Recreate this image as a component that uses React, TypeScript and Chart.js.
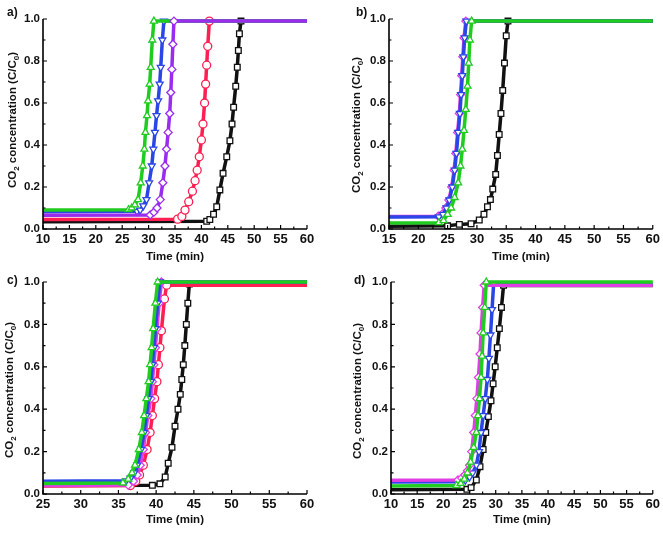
import React, { useEffect, useRef } from "react";
import { Chart, registerables } from "chart.js";
Chart.register(...registerables);

const FONT = 'Arial, "Liberation Sans", Helvetica, sans-serif';

// ---------- colours / marker styles ----------
const BLACK = "#111111";
const RED = "#ff1f52";
const PURPLE = "#9a2cf0";
const BLUE = "#2a46e6";
const GREEN = "#1fcc1f";
const MAGENTA = "#e23ce6";

// ---------- axis ranges ----------
const aXRange = [10, 60];
const bXRange = [15, 60];
const cXRange = [25, 60];
const dXRange = [10, 60];
const yRange = [0, 1];
const xTickStep = 5;
const yTickStep = 0.2;

// ---------- panel a ----------
const aBlackX = [10, 41.0, 41.6, 42.3, 42.9, 43.5, 44.1, 44.8, 45.4, 45.8, 46.1, 46.5, 46.8, 47.0, 47.2, 47.5, 60];
const aBlackY = [0.035, 0.037, 0.045, 0.07, 0.106, 0.186, 0.265, 0.344, 0.42, 0.5, 0.58, 0.68, 0.77, 0.85, 0.93, 0.99, 0.99];
const aRedX = [10, 35.5, 36.3, 36.9, 37.6, 38.3, 38.8, 39.2, 39.6, 40.0, 40.3, 40.6, 40.8, 41.0, 41.2, 41.5, 60];
const aRedY = [0.045, 0.047, 0.06, 0.09, 0.13, 0.18, 0.23, 0.28, 0.344, 0.424, 0.5, 0.6, 0.69, 0.78, 0.87, 0.99, 0.99];
const aBlueX = [10, 27.8, 28.4, 29.0, 29.6, 30.1, 30.6, 30.9, 31.2, 31.5, 31.8, 32.1, 32.3, 32.6, 32.9, 60];
const aBlueY = [0.082, 0.084, 0.09, 0.11, 0.14, 0.22, 0.3, 0.38, 0.46, 0.54, 0.61, 0.69, 0.77, 0.9, 0.99, 0.99];
const aGreenX = [10, 26.2, 26.8, 27.4, 28.0, 28.5, 28.9, 29.2, 29.4, 29.7, 29.9, 30.2, 30.4, 30.7, 31.0, 60];
const aGreenY = [0.09, 0.092, 0.1, 0.115, 0.14, 0.22, 0.3, 0.38, 0.46, 0.54, 0.61, 0.69, 0.77, 0.9, 0.99, 0.99];
const aPurpleX = [10, 30.3, 31.0, 31.6, 32.2, 32.7, 33.1, 33.4, 33.7, 34.0, 34.2, 34.4, 34.6, 34.8, 60];
const aPurpleY = [0.065, 0.067, 0.08, 0.1, 0.14, 0.22, 0.3, 0.38, 0.46, 0.55, 0.65, 0.76, 0.88, 0.99, 0.99];

// ---------- panel b ----------
const bBlackX = [15, 25, 27, 29.0, 30.4, 31.2, 31.8, 32.3, 32.7, 33.2, 33.5, 33.8, 34.1, 34.4, 34.7, 35.0, 35.3, 60];
const bBlackY = [0.013, 0.015, 0.022, 0.025, 0.043, 0.07, 0.106, 0.14, 0.19, 0.26, 0.35, 0.45, 0.55, 0.66, 0.79, 0.92, 0.99, 0.99];
const bPurpleX = [15, 23.4, 24.1, 24.7, 25.2, 25.7, 26.1, 26.4, 26.7, 27.0, 27.2, 27.4, 27.6, 27.8, 28.1, 60];
const bPurpleY = [0.06, 0.061, 0.072, 0.1, 0.138, 0.2, 0.28, 0.36, 0.46, 0.55, 0.64, 0.73, 0.82, 0.91, 0.99, 0.99];
const bBlueX = [15, 23.5, 24.2, 24.8, 25.3, 25.8, 26.2, 26.5, 26.8, 27.1, 27.3, 27.5, 27.7, 27.9, 28.2, 60];
const bBlueY = [0.057, 0.058, 0.07, 0.1, 0.138, 0.2, 0.28, 0.36, 0.46, 0.55, 0.64, 0.73, 0.82, 0.91, 0.99, 0.99];
const bGreenX = [15, 23.5, 24.3, 25.0, 25.6, 26.2, 26.8, 27.2, 27.5, 27.8, 28.1, 28.4, 28.6, 28.8, 29.1, 60];
const bGreenY = [0.028, 0.03, 0.04, 0.07, 0.1, 0.15, 0.22, 0.3, 0.38, 0.47, 0.57, 0.68, 0.79, 0.9, 0.99, 0.99];

// ---------- panel c ----------
const cBlackX = [25, 39.5, 40.5, 41.2, 41.6, 42.1, 42.5, 42.9, 43.2, 43.4, 43.6, 43.8, 44.0, 44.2, 44.4, 60];
const cBlackY = [0.04, 0.041, 0.048, 0.08, 0.145, 0.22, 0.32, 0.4, 0.47, 0.54, 0.61, 0.7, 0.8, 0.9, 0.99, 0.99];
const cRedX = [25, 36.6, 37.3, 37.8, 38.3, 38.8, 39.2, 39.5, 39.8, 40.1, 40.3, 40.5, 40.7, 41.1, 41.4, 60];
const cRedY = [0.038, 0.04, 0.06, 0.09, 0.136, 0.21, 0.29, 0.37, 0.45, 0.53, 0.61, 0.69, 0.77, 0.92, 0.985, 0.985];
const cMagentaX = [25, 36.3, 37.0, 37.5, 37.9, 38.3, 38.6, 38.9, 39.3, 39.5, 39.7, 39.9, 40.1, 40.4, 40.7, 60];
const cMagentaY = [0.04, 0.042, 0.06, 0.09, 0.136, 0.21, 0.29, 0.37, 0.45, 0.53, 0.61, 0.69, 0.78, 0.9, 1.0, 1.0];
const cBlueX = [25, 36.0, 36.6, 37.1, 37.5, 38.0, 38.4, 38.7, 39.0, 39.3, 39.5, 39.7, 39.9, 40.2, 40.5, 60];
const cBlueY = [0.06, 0.062, 0.075, 0.1, 0.136, 0.21, 0.29, 0.37, 0.45, 0.53, 0.61, 0.69, 0.78, 0.9, 1.0, 1.0];
const cGreenX = [25, 35.6, 36.3, 36.8, 37.2, 37.7, 38.1, 38.4, 38.7, 39.0, 39.2, 39.4, 39.6, 39.9, 40.2, 60];
const cGreenY = [0.05, 0.052, 0.07, 0.1, 0.136, 0.21, 0.29, 0.37, 0.45, 0.53, 0.61, 0.69, 0.78, 0.9, 1.0, 1.0];

// ---------- panel d ----------
const dBlackX = [10, 24.5, 25.3, 26.3, 27.0, 27.6, 28.1, 28.6, 29.1, 29.5, 29.9, 30.3, 30.7, 31.1, 31.5, 60];
const dBlackY = [0.02, 0.022, 0.03, 0.066, 0.129, 0.21, 0.29, 0.365, 0.44, 0.52, 0.6, 0.69, 0.78, 0.88, 0.984, 0.984];
const dBlueX = [10, 23.3, 24.2, 25.0, 25.6, 26.3, 26.8, 27.2, 27.6, 28.0, 28.4, 28.7, 29.0, 29.3, 29.6, 60];
const dBlueY = [0.057, 0.058, 0.065, 0.08, 0.1, 0.136, 0.2, 0.29, 0.37, 0.45, 0.54, 0.64, 0.75, 0.87, 0.99, 0.99];
const dMagentaX = [10, 22.8, 23.5, 24.1, 24.6, 25.0, 25.4, 25.8, 26.1, 26.4, 26.7, 27.0, 27.2, 27.5, 27.8, 60];
const dMagentaY = [0.065, 0.066, 0.075, 0.09, 0.11, 0.136, 0.2, 0.29, 0.37, 0.45, 0.55, 0.66, 0.76, 0.88, 0.985, 0.985];
const dGreenX = [10, 22.5, 23.3, 24.0, 24.6, 25.2, 25.8, 26.3, 26.6, 26.9, 27.2, 27.4, 27.6, 27.9, 28.2, 60];
const dGreenY = [0.038, 0.04, 0.05, 0.07, 0.1, 0.15, 0.22, 0.29, 0.37, 0.45, 0.55, 0.65, 0.76, 0.88, 1.0, 1.0];

type Series = { x: number[]; y: number[]; color: string; style: string; rot?: number };
type PanelCfg = {
  letter: string;
  left: number; top: number; w: number; h: number;
  padTop: number; padRight: number; yW: number; xH: number;
  xRange: number[];
  series: Series[]; // bottom to top
  yTitle: [number, number];
  letterPos: [number, number];
  xTitleY: number;
};

const panels: PanelCfg[] = [
  {
    letter: "a)", left: 0, top: 0, w: 330, h: 265, padTop: 19, padRight: 23, yW: 43, xH: 36,
    xRange: aXRange, yTitle: [13, 120], letterPos: [7, 13], xTitleY: 257,
    series: [
      { x: aBlackX, y: aBlackY, color: BLACK, style: "rect" },
      { x: aRedX, y: aRedY, color: RED, style: "circle" },
      { x: aBlueX, y: aBlueY, color: BLUE, style: "triangle", rot: 180 },
      { x: aGreenX, y: aGreenY, color: GREEN, style: "triangle" },
      { x: aPurpleX, y: aPurpleY, color: PURPLE, style: "rectRot" },
    ],
  },
  {
    letter: "b)", left: 330, top: 0, w: 333, h: 265, padTop: 19, padRight: 8, yW: 59, xH: 36,
    xRange: bXRange, yTitle: [27, 125], letterPos: [26, 13], xTitleY: 257,
    series: [
      { x: bBlackX, y: bBlackY, color: BLACK, style: "rect" },
      { x: bPurpleX, y: bPurpleY, color: MAGENTA, style: "rectRot" },
      { x: bBlueX, y: bBlueY, color: BLUE, style: "triangle", rot: 180 },
      { x: bGreenX, y: bGreenY, color: GREEN, style: "triangle" },
    ],
  },
  {
    letter: "c)", left: 0, top: 265, w: 330, h: 268, padTop: 17, padRight: 23, yW: 43, xH: 39,
    xRange: cXRange, yTitle: [10, 125], letterPos: [7, 16], xTitleY: 255,
    series: [
      { x: cBlackX, y: cBlackY, color: BLACK, style: "rect" },
      { x: cRedX, y: cRedY, color: RED, style: "circle" },
      { x: cMagentaX, y: cMagentaY, color: MAGENTA, style: "rectRot" },
      { x: cBlueX, y: cBlueY, color: BLUE, style: "triangle", rot: 180 },
      { x: cGreenX, y: cGreenY, color: GREEN, style: "triangle" },
    ],
  },
  {
    letter: "d)", left: 330, top: 265, w: 333, h: 268, padTop: 17, padRight: 8, yW: 61, xH: 39,
    xRange: dXRange, yTitle: [28, 126], letterPos: [24, 16], xTitleY: 255,
    series: [
      { x: dBlackX, y: dBlackY, color: BLACK, style: "rect" },
      { x: dBlueX, y: dBlueY, color: BLUE, style: "triangle", rot: 180 },
      { x: dMagentaX, y: dMagentaY, color: MAGENTA, style: "rectRot" },
      { x: dGreenX, y: dGreenY, color: GREEN, style: "triangle" },
    ],
  },
];

const TITLE_FONT = `bold 11.5px ${FONT}`;
const SUB_FONT = `bold 8px ${FONT}`;

function decor(p: PanelCfg) {
  return {
    id: "decor",
    afterDraw(chart: any) {
      const { ctx, chartArea: ca, scales } = chart;
      const xs = scales.x;
      const ys = scales.y;
      ctx.save();
      ctx.strokeStyle = "#000";
      // axes
      ctx.lineWidth = 1.6;
      ctx.beginPath();
      ctx.moveTo(ca.left, ca.top);
      ctx.lineTo(ca.left, ca.bottom);
      ctx.lineTo(ca.right, ca.bottom);
      ctx.stroke();
      // inward ticks
      ctx.lineWidth = 1.2;
      ctx.beginPath();
      const xt = xs.ticks.map((t: any) => t.value);
      xt.forEach((v: number, i: number) => {
        const px = xs.getPixelForValue(v);
        ctx.moveTo(px, ca.bottom);
        ctx.lineTo(px, ca.bottom - 4);
        if (i < xt.length - 1) {
          const mx = xs.getPixelForValue((v + xt[i + 1]) / 2);
          ctx.moveTo(mx, ca.bottom);
          ctx.lineTo(mx, ca.bottom - 2.5);
        }
      });
      const yt = ys.ticks.map((t: any) => t.value);
      yt.forEach((v: number, i: number) => {
        const py = ys.getPixelForValue(v);
        ctx.moveTo(ca.left, py);
        ctx.lineTo(ca.left + 4, py);
        if (i < yt.length - 1) {
          const my = ys.getPixelForValue((v + yt[i + 1]) / 2);
          ctx.moveTo(ca.left, my);
          ctx.lineTo(ca.left + 2.5, my);
        }
      });
      ctx.stroke();

      ctx.fillStyle = "#111";
      // x title
      ctx.font = TITLE_FONT;
      ctx.textAlign = "center";
      ctx.textBaseline = "middle";
      ctx.fillText("Time (min)", (ca.left + ca.right) / 2, p.xTitleY);

      // panel letter
      ctx.textAlign = "left";
      ctx.font = `bold 12px ${FONT}`;
      ctx.fillText(p.letter, p.letterPos[0], p.letterPos[1]);

      // y title with subscripts
      const segs: [string, boolean][] = [
        ["CO", false],
        ["2", true],
        [" concentration (C/C", false],
        ["0", true],
        [")", false],
      ];
      let total = 0;
      const widths = segs.map(([t, sub]) => {
        ctx.font = sub ? SUB_FONT : TITLE_FONT;
        const w = ctx.measureText(t).width;
        total += w;
        return w;
      });
      ctx.translate(p.yTitle[0], p.yTitle[1]);
      ctx.rotate(-Math.PI / 2);
      let x = -total / 2;
      ctx.textAlign = "left";
      segs.forEach(([t, sub], i) => {
        ctx.font = sub ? SUB_FONT : TITLE_FONT;
        ctx.fillText(t, x, sub ? 3.5 : 0);
        x += widths[i];
      });
      ctx.restore();
    },
  };
}

function Panel({ p }: { p: PanelCfg }) {
  const ref = useRef<HTMLCanvasElement>(null);
  useEffect(() => {
    if (!ref.current) return;
    const ordered = [...p.series].reverse(); // first dataset drawn on top
    const chart = new Chart(ref.current, {
      type: "line",
      data: {
        datasets: ordered.map((s) => ({
          data: s.x.map((x, i) => ({ x, y: s.y[i] })),
          borderColor: s.color,
          backgroundColor: "#ffffff",
          borderWidth: 3.5,
          pointStyle: s.style as any,
          pointRotation: s.rot || 0,
          pointRadius: (c: any) => (c.dataIndex === 0 || c.dataIndex === s.x.length - 1 ? 0 : 4),
          pointBorderWidth: 1.3,
          pointBorderColor: s.color,
          pointBackgroundColor: "#ffffff",
          tension: 0,
          fill: false,
          clip: false as any,
        })),
      },
      options: {
        responsive: false,
        animation: false,
        devicePixelRatio: 1,
        events: [],
        plugins: { legend: { display: false }, tooltip: { enabled: false } },
        layout: { padding: { left: 0, top: p.padTop, right: p.padRight, bottom: 0 } },
        scales: {
          x: {
            type: "linear",
            min: p.xRange[0],
            max: p.xRange[1],
            grid: { display: false, drawTicks: false },
            border: { display: false },
            ticks: {
              stepSize: xTickStep,
              padding: 3,
              maxRotation: 0,
              autoSkip: false,
              color: "#111",
              font: { family: FONT, size: 13, weight: "bold" },
              callback: (v: any) => String(v),
            },
            afterFit: (s: any) => {
              s.height = p.xH;
            },
          },
          y: {
            type: "linear",
            min: yRange[0],
            max: yRange[1],
            grid: { display: false, drawTicks: false },
            border: { display: false },
            ticks: {
              stepSize: yTickStep,
              padding: 3,
              color: "#111",
              font: { family: FONT, size: 11.5, weight: "bold" },
              callback: (v: any) => Number(v).toFixed(1),
            },
            afterFit: (s: any) => {
              s.width = p.yW;
            },
          },
        },
      } as any,
      plugins: [decor(p)],
    });
    return () => chart.destroy();
  }, [p]);
  return (
    <div style={{ position: "absolute", left: p.left, top: p.top, width: p.w, height: p.h }}>
      <canvas ref={ref} width={p.w} height={p.h} style={{ display: "block", width: p.w, height: p.h }} />
    </div>
  );
}

export default function App() {
  return (
    <div
      style={{
        position: "fixed",
        left: 0,
        top: 0,
        width: 663,
        height: 533,
        background: "#ffffff",
        overflow: "hidden",
      }}
    >
      {panels.map((p) => (
        <Panel key={p.letter} p={p} />
      ))}
    </div>
  );
}
